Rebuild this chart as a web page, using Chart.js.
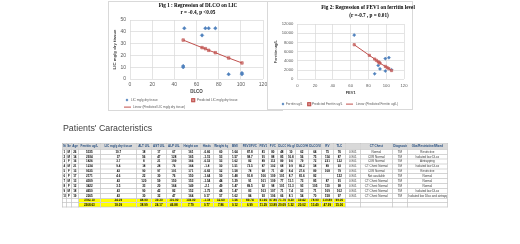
<!DOCTYPE html>
<html>
<head>
<meta charset="utf-8">
<script src="https://cdn.jsdelivr.net/npm/chart.js@4.4.1/dist/chart.umd.min.js"></script>
<style>
  html, body { margin:0; padding:0; background:#fff; }
  body { width:520px; height:244px; position:relative; overflow:hidden; font-family:"Liberation Sans", Arial, sans-serif; }
  .box { position:absolute; background:#fff; border:1px solid #d9d9d9; overflow:hidden; }
  #box1 { left:108px; top:1px; width:173px; height:108px; }
  #box2 { left:267px; top:1px; width:144px; height:107px; }
  .box canvas { position:absolute; left:0; top:0; }
  .ttl { position:absolute; transform:translate(-50%,-50%); font-family:"Liberation Serif", serif; font-weight:bold; font-size:5.2px; color:#000; white-space:nowrap; }
  .lg { position:absolute; font-size:3.1px; color:#595959; white-space:nowrap; transform:translateY(-50%); }
  .mk { position:absolute; transform:translate(-50%,-50%); }
  .mk.b { width:2px; height:2px; background:#4f81bd; transform:translate(-50%,-50%) rotate(45deg); }
  .mk.r { width:1.6px; height:1.6px; background:#d99694; border:0.5px solid #c0504d; }
  .mk.l { width:7px; height:0.8px; background:#c0504d; transform:translate(0,-50%); }
  #heading { position:absolute; left:63px; top:123px; font-size:8.8px; color:#404040; white-space:nowrap; }
  #tableWrap { position:absolute; left:62px; top:143px; transform:scale(0.33333); transform-origin:0 0; }
  #tbl { border-collapse:collapse; table-layout:fixed; font-size:9px; width:1155px; }
  #tbl td { border:2px solid #bfbfbf; padding:0 2px; text-align:center; white-space:nowrap; overflow:hidden; color:#000; font-weight:bold; line-height:9px; }
  #tbl tr { height:14.7px; }
  #tbl tr.hd { height:18px; }
  #tbl tr.hd td { background:#d9d9d9; color:#1f497d; }
  #tbl tr.ye { height:13.2px; }
  #tbl tr.ye td.y { background:#ffff00; }
  #tbl td.t { font-weight:normal; color:#333; }
</style>
</head>
<body>

<div id="box1" class="box"><canvas id="fig1" width="173" height="108"></canvas></div>
<div id="box2" class="box"><canvas id="fig2" width="144" height="107"></canvas></div>

<div class="ttl" style="left:198px;top:5px">Fig 1 : Regression of DLCO on LIC</div>
<div class="ttl" style="left:198px;top:12px">r = -0.4, p &lt;0.05</div>
<div class="ttl" style="left:368px;top:7px">Fig 2: Regression of FEV1 on ferritin level</div>
<div class="ttl" style="left:369px;top:15px">(r =-0.7 , p = 0.01)</div>

<div class="mk b" style="left:127px;top:100px"></div>
<div class="lg" style="left:131px;top:100px">LIC mg/g dry tissue</div>
<div class="mk r" style="left:193px;top:100px"></div>
<div class="lg" style="left:197px;top:100px">Predicted LIC mg/g dry tissue</div>
<div class="mk l" style="left:124px;top:107px"></div>
<div class="lg" style="left:133px;top:107px">Linear (Predicted LIC mg/g dry tissue)</div>

<div class="mk b" style="left:283px;top:104px"></div>
<div class="lg" style="left:286px;top:104px">Ferritin ug/L</div>
<div class="mk r" style="left:309px;top:104px"></div>
<div class="lg" style="left:312px;top:104px">Predicted Ferritin ug/L</div>
<div class="mk l" style="left:346px;top:104px"></div>
<div class="lg" style="left:356px;top:104px">Linear (Predicted Ferritin ug/L)</div>

<div id="heading">Patients' Caracteristics</div>
<div id="tableWrap"><table id="tbl"></table></div>

<script>
// Fig 1 : LIC against DLCO
const dlco = [49, 48, 48, 65, 68, 71, 77, 89, 101, 101];
const lic = [43, 11, 10, 37, 43, 43, 43, 4, 4, 5];
const dlcoPred = [48, 65, 68, 71, 77, 89, 101];
const licPred = [33, 26.6, 25.7, 24.3, 22.3, 17.8, 13.6];
const xTicks1 = [0, 20, 40, 60, 80, 100, 120];
const yTicks1 = [0, 10, 20, 30, 40, 50];

// Fig 2 : ferritin against FEV1
const fev1 = [64, 87, 91, 93, 99, 99, 103, 106];
const ferritin = [9600, 1200, 3000, 2250, 4500, 1800, 4700, 2050];
const fev1Pred = [64, 81, 87, 89, 91, 92, 93, 99, 101, 103, 106];
const ferritinPred = [7500, 5200, 4400, 4100, 3800, 3650, 3500, 2800, 2550, 2300, 1900];
const xTicks2 = [0, 20, 40, 60, 80, 100, 120];
const yTicks2 = [0, 2000, 4000, 6000, 8000, 10000, 12000];

// table
const colWidths = [4,5,7,22,36,15,15,15,19,13,15,13,17,10,9,9,9,13,13,12,12,15,32,15,40];
const tableHead = ['No','Sex','Age','Ferritin ug/L','LIC mg/g dry tissue','ALT U/L','AST U/L','ALP U/L','Height cm','Htsds','Weight kg','BMI','FEV1/FVC','FEV1','FVC','DLCO','Hb g/dl','DLCO/Hb','DLCO/VA','RV','TLC','','CT Chest','Diagnosis','Obs/Restrictive/Mixed'];
const tableRows = [
  ['1','M','26','5335','10.7','18','17','67','161','-0.66','60','1.64','87.8','81','80','48','10','62','64','75','76','0.901','Normal','TM','Restrictive'],
  ['2','M','14','2934','37','56','47','128','165','-1.15','53','1.57','98.7','91','88','85','10.8','56','75','114','87','0.901','CXR Normal','TM','Isolated low DLco'],
  ['3','F','16','1826','3.7','8','21','199','166','-0.53','53','1.62','82','89','112','89','9.6','79','72','231','122','0.901','CXR Normal','TM','Airtrapping'],
  ['4','M','21','1234','9.4','18','28','76','164','-1.8','50','1.51','73.5','87','102','68','9.9','80.2','58','89','93','0.901','CT Chest Normal','TM','Isolated low DLco'],
  ['5','F','15','9535','43','90','97','101','171','-0.82','52','1.58','78','68','71','49','8.4','27.6','89','108','79','0.901','CXR Normal','TM','Restrictive'],
  ['6','F','17','2171','4.6','22','30','76','150','-1.64','50','1.48','91.8','106','109','101','8.7','81.6','82','','122','0.901','Not available','TM','Normal'],
  ['7','M','13','4309','43','120','59','150','153','-1.54','44','1.29','91','101','109','77','11.1','73','85','87','91','0.901','CT Chest Normal','TM','Normal'],
  ['8','F','12','3422','3.5','33','20','164','149','-2.1','49','1.47','89.5','92','98','101','11.3','93','105','110','98','0.901','CT Chest Normal','TM','Normal'],
  ['9','M','18','4650','43','90','42','82','152','-1.75','44','1.47','83','103','107','71','7.4','53','71','109','102','0.901','CT Chest Normal','TM','Isolated low DLco'],
  ['10','F','19','2265','43','30','32','47','164','0.17','57','1.62','84','93','106','66','8.1','54','70','158','97','0.901','CT Chest Normal','TM','Isolated low Dlco and airtrapping']
];
const tableMean = ['3782.10','24.09','48.90','39.30','110.90','159.00','-1.18','52.60','1.56','89.74','91.60','97.80','71.70','9.20','59.42','78.90','119.89','99.00'];
const tableSd = ['2368.63','18.09','38.99','24.17','46.88','7.79','0.77','7.86','0.12','6.99','11.29','13.89','20.09','1.32','20.02','13.40','47.99','15.00'];

const pts = (xs, ys) => xs.map((x, i) => ({x: x, y: ys[i]}));

function makeScatter(id, o) {
  new Chart(document.getElementById(id), {
    type: 'scatter',
    data: {
      datasets: [
        { label: o.lineLabel, data: pts(o.px, o.py), showLine: true, borderColor: '#c0504d', borderWidth: 1, pointRadius: 0, order: 0 },
        { label: o.predLabel, data: pts(o.px, o.py), pointStyle: 'rect', pointRadius: o.r, backgroundColor: '#d99694', borderColor: '#c0504d', borderWidth: 0.6, order: 1 },
        { label: o.obsLabel, data: pts(o.x, o.y), pointStyle: 'rectRot', pointRadius: o.r, backgroundColor: '#4f81bd', borderColor: '#4f81bd', borderWidth: 0.5, order: 2 }
      ]
    },
    options: {
      responsive: false,
      animation: false,
      devicePixelRatio: 1,
      layout: { padding: o.pad },
      plugins: { legend: { display: false }, tooltip: { enabled: false } },
      scales: {
        x: {
          type: 'linear', min: o.xt[0], max: o.xt[o.xt.length - 1],
          afterBuildTicks: s => { s.ticks = o.xt.map(v => ({value: v})); },
          afterFit: s => { s.height = 16; },
          grid: { color: '#d9d9d9', lineWidth: 0.7, drawTicks: false },
          border: { display: false },
          ticks: { padding: o.xtp, color: '#595959', font: { size: o.tf, family: 'Liberation Sans' }, callback: v => String(v), maxRotation: 0 },
          title: { display: true, text: o.xTitle, color: '#404040', padding: { top: 0, bottom: o.xtb }, font: { size: o.xf, weight: 'bold', family: 'Liberation Sans' } }
        },
        y: {
          type: 'linear', min: o.yt[0], max: o.yt[o.yt.length - 1],
          afterBuildTicks: s => { s.ticks = o.yt.map(v => ({value: v})); },
          afterFit: s => { s.width = o.yw; },
          grid: { color: '#d9d9d9', lineWidth: 0.7, drawTicks: false },
          border: { display: false },
          ticks: { padding: 4, color: '#595959', font: { size: o.tf, family: 'Liberation Sans' }, callback: v => String(v) },
          title: { display: true, text: o.yTitle, color: '#404040', padding: { top: o.ytp, bottom: 0 }, font: { size: o.yf, weight: 'bold', family: 'Liberation Sans' } }
        }
      }
    }
  });
}

makeScatter('fig1', {
  x: dlco, y: lic, px: dlcoPred, py: licPred, xt: xTicks1, yt: yTicks1,
  obsLabel: 'LIC mg/g dry tissue', predLabel: 'Predicted LIC mg/g dry tissue', lineLabel: 'Linear (Predicted LIC mg/g dry tissue)',
  xTitle: 'DLCO', yTitle: 'LIC mg/g dry tissue',
  pad: { left: 0, right: 19, top: 18, bottom: 15 }, yw: 21, r: 1.8,
  tf: 5, xf: 4.5, yf: 4.3, xtp: 3, xtb: 0.7, ytp: 3.3
});

makeScatter('fig2', {
  x: fev1, y: ferritin, px: fev1Pred, py: ferritinPred, xt: xTicks2, yt: yTicks2,
  obsLabel: 'Ferritin ug/L', predLabel: 'Predicted Ferritin ug/L', lineLabel: 'Linear (Predicted Ferritin ug/L)',
  xTitle: 'FEV1', yTitle: 'Ferritin ug/L',
  pad: { left: 0, right: 8, top: 22, bottom: 13.7 }, yw: 29.3, r: 1.6,
  tf: 4.2, xf: 4, yf: 4, xtp: 4.5, xtb: 0.5, ytp: 5.3
});

// table
let html = '<colgroup>' + colWidths.map(w => '<col style="width:' + (w * 3) + 'px">').join('') + '</colgroup>';
html += '<tr class="hd">' + tableHead.map(h => '<td>' + h + '</td>').join('') + '</tr>';
for (let row of tableRows) {
  html += '<tr>' + row.map((c, i) => '<td' + (i >= 21 ? ' class="t"' : '') + '>' + c + '</td>').join('') + '</tr>';
}
for (let stat of [tableMean, tableSd]) {
  html += '<tr class="ye"><td></td><td></td><td></td>' + stat.map(c => '<td class="y">' + c + '</td>').join('') + '<td></td><td></td><td></td><td></td></tr>';
}
document.getElementById('tbl').innerHTML = html;
</script>
</body>
</html>
